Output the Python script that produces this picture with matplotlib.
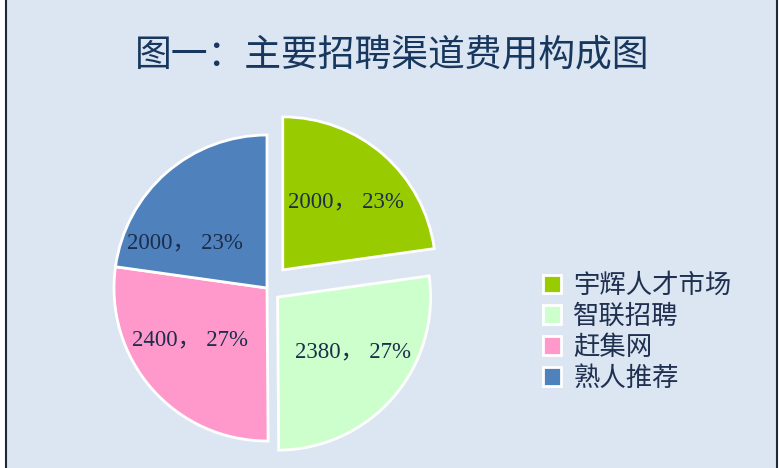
import math

import matplotlib
matplotlib.use("Agg")
import matplotlib.pyplot as plt
from matplotlib.patches import Rectangle

plt.rcParams["font.family"] = ["Noto Sans CJK SC", "DejaVu Sans"]

# data
channels = ["宇辉人才市场", "智联招聘", "赶集网", "熟人推荐"]
costs = [2000, 2380, 2400, 2000]
colors = ["#99CC00", "#CCFFCC", "#FF99CC", "#4F81BD"]
title = "图一：主要招聘渠道费用构成图"

# layout (pixel coords, y up)
W, H = 779, 468
center = (267, H - 288)
radius = 153
explode = [24, 14, 0, 0]
label_angles = [47, -36, 214, 151]
label_dist = 0.61

fig = plt.figure(figsize=(W / 100, H / 100), dpi=100, facecolor="white")
fig.patches.append(Rectangle((6 / W, -0.01), 771 / W, 1.02 - 0.5 / H,
                             transform=fig.transFigure, facecolor="#DCE6F2",
                             edgecolor="#1F2A36", linewidth=1.5, zorder=-1))

ax = fig.add_axes([0, 0, 1, 1])
ax.axis("off")

total = sum(costs)
wedges, _ = ax.pie(costs, colors=colors, startangle=90, counterclock=False,
                   explode=explode, center=center, radius=radius,
                   wedgeprops=dict(edgecolor="white", linewidth=2))
ax.set_xlim(0, W)
ax.set_ylim(0, H)
ax.set_aspect("equal")

for w, v, ang in zip(wedges, costs, label_angles):
    cx, cy = w.center
    t = math.radians(ang)
    ax.text(cx + label_dist * radius * math.cos(t),
            cy + label_dist * radius * math.sin(t),
            f"{v}， {round(v / total * 100)}%",
            ha="center", va="center", fontsize=16.5, color="#1B2E4B",
            family=["Liberation Serif", "Noto Sans CJK SC"])

fig.text(392 / W, 1 - 55 / H, title, ha="center", va="center",
         fontsize=26.5, color="#17375E")

leg = ax.legend(wedges, channels, loc="upper left",
                bbox_to_anchor=(543 / W, 1 - 272 / H), frameon=False,
                fontsize=19, labelcolor="#1F3050", handlelength=0.7,
                handleheight=0.7, handletextpad=0.45, labelspacing=0.15,
                borderaxespad=0, borderpad=0)

fig.savefig("out.png", dpi=100, facecolor="white")
